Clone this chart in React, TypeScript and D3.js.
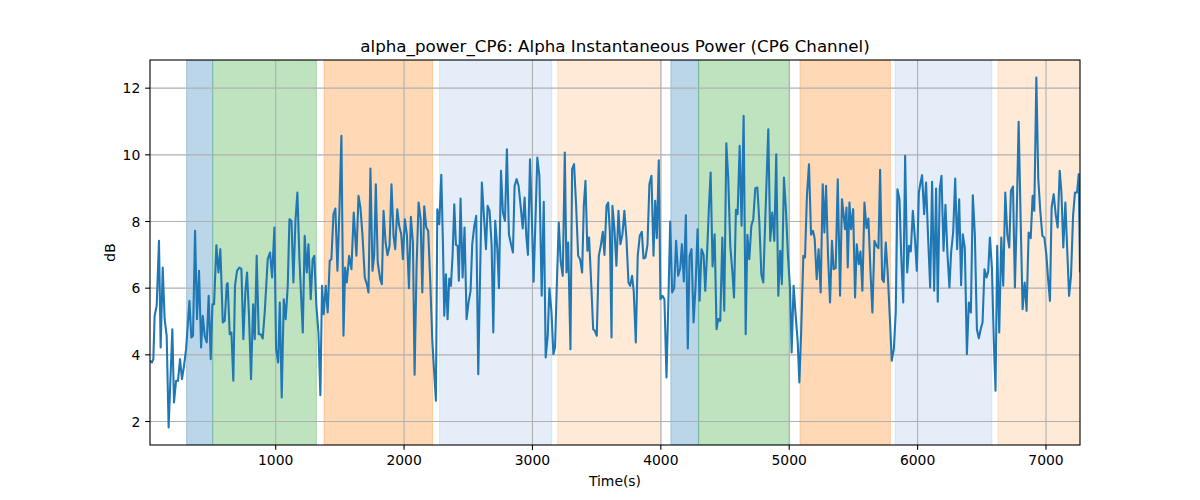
import React, { useEffect, useRef } from "react";
import * as d3 from "d3";

const times: number[] = [
  21, 36, 47, 57, 73, 91, 104, 120, 135, 151, 166, 195, 208, 224, 239, 255, 270, 286, 302, 328, 343, 356, 372, 387, 403, 419, 432, 447, 463, 478, 494, 507, 520, 538, 554, 569, 588, 603, 619,
  626, 642, 655, 670, 683, 699, 717, 733, 748, 764, 777, 792, 808, 824, 837, 852, 868, 883, 899, 915, 938, 956, 972, 990, 1003, 1019, 1032, 1047, 1063, 1078, 1094, 1107, 1123, 1138, 1154, 1169, 1185, 1211,
  1226, 1242, 1255, 1273, 1288, 1301, 1317, 1333, 1348, 1361, 1374, 1390, 1405, 1421, 1434, 1450, 1465, 1481, 1496, 1512, 1528, 1541, 1554, 1572, 1590, 1608, 1629, 1645, 1660, 1676, 1694, 1710, 1723, 1738, 1754, 1767, 1780, 1795, 1814,
  1827, 1840, 1856, 1871, 1887, 1902, 1918, 1931, 1947, 1962, 1978, 1991, 2006, 2022, 2038, 2053, 2069, 2082, 2097, 2113, 2129, 2142, 2157, 2173, 2188, 2204, 2220, 2233, 2248, 2259, 2274, 2290, 2303, 2313, 2326, 2339, 2352, 2365, 2378, 2391, 2404, 2417,
  2427, 2440, 2456, 2471, 2487, 2502, 2518, 2531, 2547, 2562, 2578, 2591, 2606, 2622, 2638, 2651, 2666, 2682, 2695, 2710, 2726, 2739, 2755, 2770, 2786, 2801, 2817, 2833, 2848, 2861, 2877, 2892, 2908, 2924, 2939, 2952, 2965, 2981, 2996, 3009,
  3038, 3054, 3072, 3088, 3103, 3119, 3132, 3148, 3163, 3176, 3189, 3205, 3220, 3236, 3252, 3265, 3278, 3296, 3309, 3324, 3340, 3356, 3371, 3387, 3400, 3413, 3428, 3441, 3457, 3473, 3486, 3501, 3517, 3532, 3548, 3561, 3577, 3590, 3603, 3616,
  3623, 3638, 3654, 3670, 3685, 3701, 3716, 3732, 3748, 3761, 3776, 3789, 3805, 3820, 3836, 3852, 3865, 3880, 3896, 3911, 3927, 3943, 3956, 3969, 3984, 3997, 4013, 4028, 4044, 4060, 4073, 4088, 4104, 4119, 4135, 4151, 4164, 4179, 4195, 4210,
  4224, 4239, 4255, 4271, 4286, 4302, 4317, 4333, 4346, 4362, 4375, 4388, 4403, 4419, 4434, 4447, 4463, 4479, 4494, 4510, 4525, 4541, 4557, 4570, 4585, 4598, 4614, 4629, 4645, 4661, 4674, 4689, 4705, 4720, 4736, 4752, 4767, 4783, 4798, 4811,
  4837, 4852, 4868, 4884, 4899, 4915, 4930, 4943, 4959, 4975, 4990, 5006, 5019, 5034, 5050, 5066, 5079, 5094, 5110, 5123, 5138, 5154, 5170, 5185, 5198, 5214, 5229, 5245, 5261, 5274, 5287, 5302, 5318, 5333, 5346, 5362, 5378, 5396, 5411,
  5435, 5446, 5456, 5469, 5482, 5498, 5513, 5526, 5542, 5555, 5570, 5586, 5602, 5617, 5633, 5648, 5664, 5680, 5695, 5708, 5724, 5737, 5752, 5768, 5784, 5799, 5815, 5830, 5843, 5859, 5872, 5888, 5903, 5919, 5934, 5947, 5963, 5979, 5994, 6010, 6023,
  6035, 6051, 6066, 6082, 6098, 6113, 6129, 6144, 6157, 6173, 6186, 6202, 6217, 6233, 6248, 6261, 6277, 6293, 6308, 6324, 6339, 6352, 6368, 6384, 6399, 6415, 6430, 6446, 6462, 6477, 6493, 6506, 6521, 6537, 6550, 6563, 6579, 6594, 6607, 6620,
  6636, 6652, 6667, 6683, 6699, 6714, 6727, 6743, 6758, 6771, 6787, 6803, 6818, 6834, 6849, 6865, 6881, 6896, 6909, 6925, 6940, 6956, 6972, 6987, 7003, 7016, 7031, 7044, 7060, 7076, 7091, 7107, 7120, 7135, 7151, 7167, 7180, 7195, 7211, 7226, 7242, 7255, 7265,
];

const power: number[] = [
  3.82, 3.77, 3.87, 5.17, 5.47, 7.42, 4.22, 6.62, 5.07, 4.57, 1.82, 4.77, 2.57, 3.22, 3.22, 3.87, 3.27, 3.67, 4.17, 5.62, 4.52, 4.57, 7.72, 5.07, 6.52, 4.22, 5.17, 4.57, 4.37, 5.77, 3.87, 5.52, 5.52, 7.29, 6.47, 7.17, 4.97, 5.02, 6.12,
  6.15, 4.62, 4.67, 3.22, 6.07, 6.52, 6.62, 6.57, 4.47, 5.9, 6.47, 5.2, 3.27, 5.52, 4.47, 6.97, 4.62, 4.62, 4.49, 5.3, 6.87, 7.07, 6.32, 7.82, 4.17, 3.77, 5.57, 2.72, 5.67, 5.07, 6.07, 8.07, 8.02, 6.17, 8.02, 8.87, 6.87, 4.67,
  7.57, 6.47, 7.32, 5.67, 6.87, 6.97, 5.47, 4.67, 2.79, 6.07, 5.22, 6.07, 5.27, 6.82, 6.87, 8.22, 8.39, 6.52, 8.27, 10.57, 4.57, 6.62, 6.17, 6.97, 6.57, 8.27, 6.97, 8.77, 8.42, 7.6, 6.32, 6.12, 5.87, 9.59, 6.52, 6.97, 9.12, 6.77, 6.27,
  6.12, 8.32, 7.37, 6.99, 7.27, 9.12, 7.57, 7.17, 8.37, 7.87, 7.62, 6.87, 8.07, 7.6, 6.0, 8.14, 7.37, 3.4, 6.6, 8.57, 8.07, 5.87, 8.46, 7.82, 7.72, 6.2, 4.42, 3.57, 2.62, 8.37, 7.92, 9.4, 7.3, 5.17, 6.42, 5.07, 6.29, 6.07, 7.0, 8.52, 7.3, 7.27,
  6.22, 8.69, 6.32, 7.82, 5.07, 5.57, 5.92, 7.32, 7.87, 8.17, 3.42, 6.17, 9.17, 8.17, 7.17, 8.47, 8.32, 7.3, 4.67, 8.02, 7.2, 6.0, 9.52, 8.27, 8.02, 10.17, 7.62, 7.32, 7.07, 9.07, 9.27, 9.07, 8.47, 7.79, 8.72, 7.57, 7.0, 9.87, 8.0, 6.19,
  9.92, 9.37, 5.77, 8.59, 3.92, 4.57, 6.0, 5.3, 4.02, 4.22, 6.0, 7.97, 6.8, 6.37, 10.07, 6.47, 7.37, 4.17, 9.57, 9.72, 8.5, 6.97, 6.87, 6.47, 8.47, 9.22, 7.12, 7.52, 6.2, 4.77, 4.72, 4.57, 6.97, 7.27, 7.69, 7.0, 8.47, 8.57, 7.7, 4.52,
  8.47, 7.8, 6.67, 8.32, 7.32, 7.62, 8.32, 7.5, 6.17, 6.07, 6.37, 5.9, 4.37, 6.97, 7.57, 7.69, 6.89, 6.92, 7.3, 9.12, 9.37, 6.97, 8.62, 7.5, 9.84, 5.67, 5.77, 5.67, 3.32, 5.8, 8.0, 5.87, 6.0, 7.42, 6.37, 6.6, 7.32, 6.2, 8.19, 4.19,
  6.97, 7.17, 4.97, 6.1, 7.77, 5.62, 7.17, 7.0, 5.92, 7.2, 8.47, 9.47, 6.65, 7.62, 4.77, 5.07, 5.02, 7.52, 5.32, 10.35, 9.3, 7.27, 6.5, 5.72, 8.35, 8.22, 10.27, 7.87, 11.17, 4.62, 7.6, 6.87, 7.87, 8.07, 9.0, 9.02, 8.0, 6.42, 6.17, 7.77,
  10.77, 7.42, 8.27, 7.42, 10.02, 5.77, 7.12, 6.12, 9.32, 8.3, 7.0, 6.0, 4.07, 6.07, 5.2, 4.4, 3.17, 4.8, 6.97, 6.92, 8.77, 9.72, 7.6, 7.72, 7.5, 6.27, 7.17, 5.87, 9.12, 7.67, 9.07, 7.0, 5.57, 7.42, 6.57, 6.6, 9.27, 5.77, 8.67,
  7.77, 8.42, 6.62, 8.57, 7.77, 8.37, 5.72, 7.32, 6.72, 7.1, 5.92, 8.57, 7.8, 8.09, 6.5, 5.27, 7.42, 7.27, 7.2, 9.55, 6.27, 6.19, 7.37, 6.4, 5.1, 3.82, 4.17, 5.3, 8.97, 8.67, 7.0, 5.57, 9.97, 6.47, 7.27, 7.1, 8.32, 7.5, 6.52, 8.87, 9.17,
  9.39, 8.22, 9.17, 7.5, 6.02, 9.19, 5.92, 8.99, 5.59, 8.99, 9.37, 7.12, 8.5, 7.0, 6.02, 7.07, 7.67, 9.29, 7.17, 8.67, 6.09, 7.62, 7.2, 4.02, 5.57, 5.27, 8.79, 7.6, 4.77, 4.5, 4.8, 4.97, 6.57, 6.32, 6.5, 7.52, 6.6, 4.37, 2.92, 7.27,
  4.67, 7.52, 6.07, 8.87, 7.6, 7.22, 8.92, 9.05, 6.02, 8.0, 10.99, 8.0, 5.37, 6.17, 5.32, 7.67, 7.5, 8.77, 8.32, 12.32, 9.27, 8.3, 7.57, 7.52, 7.0, 6.3, 5.62, 8.42, 8.82, 8.2, 7.82, 9.52, 8.9, 7.22, 8.57, 7.0, 5.77, 6.37, 8.17, 8.87, 8.87, 9.42, 6.47,
];

const spanStarts: number[] = [306, 510, 1377, 2277, 3197, 4078, 4294, 5084, 5825, 6626];
const spanEnds: number[] = [508, 1317, 2222, 3150, 4005, 4294, 5003, 5788, 6579, 7300];
const spanColors: string[] = [
  "rgba(31,119,180,0.3)",
  "rgba(44,160,44,0.3)",
  "rgba(255,127,14,0.3)",
  "rgba(70,130,210,0.14)",
  "rgba(255,140,40,0.18)",
  "rgba(31,119,180,0.3)",
  "rgba(44,160,44,0.3)",
  "rgba(255,127,14,0.3)",
  "rgba(70,130,210,0.14)",
  "rgba(255,140,40,0.18)",
];

const xTicks: number[] = [1000, 2000, 3000, 4000, 5000, 6000, 7000];
const yTicks: number[] = [2, 4, 6, 8, 10, 12];

const W = 1200;
const H = 500;
const M = { left: 150, right: 1080, top: 60, bottom: 445 };
const FONT = "DejaVu Sans, sans-serif";

export default function App() {
  const ref = useRef<SVGSVGElement | null>(null);

  useEffect(() => {
    const svg = d3.select(ref.current);
    svg.selectAll("*").remove();

    const xMin = times[0];
    const xMax = times[times.length - 1];
    const yMinD = d3.min(power) as number;
    const yMaxD = d3.max(power) as number;
    const pad = (yMaxD - yMinD) * 0.05;

    const x = d3.scaleLinear().domain([xMin, xMax]).range([M.left, M.right]);
    const y = d3.scaleLinear().domain([yMinD - pad, yMaxD + pad]).range([M.bottom, M.top]);

    svg.append("rect").attr("x", 0).attr("y", 0).attr("width", W).attr("height", H).attr("fill", "white");

    svg.append("defs").append("clipPath").attr("id", "plotclip")
      .append("rect").attr("x", M.left).attr("y", M.top)
      .attr("width", M.right - M.left).attr("height", M.bottom - M.top);

    const plot = svg.append("g").attr("clip-path", "url(#plotclip)");

    // spans
    spanStarts.forEach((s, i) => {
      const x0 = x(s);
      const x1 = x(Math.min(spanEnds[i], xMax + 100));
      plot.append("rect")
        .attr("x", x0).attr("y", M.top)
        .attr("width", x1 - x0).attr("height", M.bottom - M.top)
        .attr("fill", spanColors[i])
        .attr("stroke", spanColors[i])
        .attr("stroke-width", 1);
    });

    // grid
    xTicks.forEach((t) => {
      plot.append("line")
        .attr("x1", x(t)).attr("x2", x(t))
        .attr("y1", M.top).attr("y2", M.bottom)
        .attr("stroke", "#b0b0b0").attr("stroke-width", 1.1);
    });
    yTicks.forEach((t) => {
      plot.append("line")
        .attr("x1", M.left).attr("x2", M.right)
        .attr("y1", y(t)).attr("y2", y(t))
        .attr("stroke", "#b0b0b0").attr("stroke-width", 1.1);
    });

    // line
    const line = d3.line<number>()
      .x((_, i) => x(times[i]))
      .y((d) => y(d));
    plot.append("path")
      .datum(power)
      .attr("d", line)
      .attr("fill", "none")
      .attr("stroke", "#1f77b4")
      .attr("stroke-width", 2.08)
      .attr("stroke-linejoin", "round")
      .attr("stroke-linecap", "butt");

    // frame
    svg.append("rect")
      .attr("x", M.left).attr("y", M.top)
      .attr("width", M.right - M.left).attr("height", M.bottom - M.top)
      .attr("fill", "none").attr("stroke", "black").attr("stroke-width", 1.1);

    // x ticks
    const tickLen = 4.86;
    xTicks.forEach((t) => {
      svg.append("line")
        .attr("x1", x(t)).attr("x2", x(t))
        .attr("y1", M.bottom).attr("y2", M.bottom + tickLen)
        .attr("stroke", "black").attr("stroke-width", 1.1);
      svg.append("text")
        .attr("x", x(t)).attr("y", M.bottom + tickLen + 4.86 + 10.6)
        .attr("text-anchor", "middle")
        .attr("font-family", FONT).attr("font-size", 13.9)
        .attr("fill", "black")
        .text(String(t));
    });
    yTicks.forEach((t) => {
      svg.append("line")
        .attr("x1", M.left - tickLen).attr("x2", M.left)
        .attr("y1", y(t)).attr("y2", y(t))
        .attr("stroke", "black").attr("stroke-width", 1.1);
      svg.append("text")
        .attr("x", M.left - tickLen - 4.86).attr("y", y(t) + 5.1)
        .attr("text-anchor", "end")
        .attr("font-family", FONT).attr("font-size", 13.9)
        .attr("fill", "black")
        .text(String(t));
    });

    // labels
    svg.append("text")
      .attr("x", (M.left + M.right) / 2).attr("y", 486)
      .attr("text-anchor", "middle")
      .attr("font-family", FONT).attr("font-size", 13.9)
      .text("Time(s)");
    svg.append("text")
      .attr("transform", `translate(115, ${(M.top + M.bottom) / 2}) rotate(-90)`)
      .attr("text-anchor", "middle")
      .attr("font-family", FONT).attr("font-size", 13.9)
      .text("dB");
    svg.append("text")
      .attr("x", (M.left + M.right) / 2).attr("y", 52)
      .attr("text-anchor", "middle")
      .attr("font-family", FONT).attr("font-size", 16.7)
      .text("alpha_power_CP6: Alpha Instantaneous Power (CP6 Channel)");
  }, []);

  return (
    <svg
      ref={ref}
      width={W}
      height={H}
      style={{ position: "absolute", left: 0, top: 0, display: "block" }}
    />
  );
}
